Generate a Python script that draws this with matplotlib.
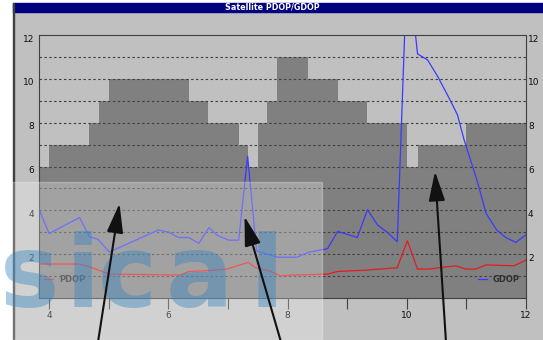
import matplotlib
matplotlib.use("Agg")
import matplotlib.pyplot as plt
from matplotlib.patches import Rectangle, FancyArrowPatch, ArrowStyle
import matplotlib.transforms as mtransforms

# ---------------- data ----------------
sat_edges = [3.83, 4.0, 4.67, 4.84, 5.01, 6.34, 6.67, 7.18, 7.34, 7.50, 7.66,
             7.83, 8.34, 8.84, 9.34, 10.0, 10.18, 11.0, 12.0]
sat_levels = [6, 7, 8, 9, 10, 9, 8, 7, 6, 8, 9, 11, 10, 9, 8, 6, 7, 8]

gdop_x = [3.83, 4.0, 4.51, 4.68, 4.82, 5.01, 5.83, 6.0, 6.17, 6.34, 6.51, 6.68,
          6.82, 7.01, 7.18, 7.33, 7.48, 7.83, 8.16, 8.34, 8.67, 8.84, 9.17, 9.34,
          9.51, 9.68, 9.84, 10.01, 10.18, 10.35, 10.52, 10.71, 10.85, 10.96,
          11.19, 11.33, 11.51, 11.66, 11.83, 12.0]
gdop = [4.05, 2.94, 3.67, 2.79, 2.68, 2.10, 3.10, 3.01, 2.76, 2.76, 2.49, 3.21,
        2.86, 2.64, 2.64, 6.47, 2.15, 1.86, 1.86, 2.08, 2.25, 3.04, 2.76, 4.03,
        3.33, 2.98, 2.57, 15.5, 11.14, 10.86, 10.10, 9.12, 8.36, 7.23,
        5.26, 3.86, 3.10, 2.76, 2.54, 2.88]

pdop_x = [3.83, 4.51, 4.68, 5.01, 5.88, 6.2, 6.34, 6.62, 6.99, 7.15, 7.34, 7.46,
          7.69, 7.88, 8.13, 8.67, 8.84, 9.31, 9.84, 10.01, 10.18, 10.37, 10.66,
          10.82, 10.99, 11.16, 11.33, 11.80, 12.0]
pdop = [1.55, 1.55, 1.42, 1.09, 1.06, 1.05, 1.21, 1.24, 1.32, 1.47, 1.62, 1.39,
        1.24, 1.01, 1.05, 1.09, 1.21, 1.27, 1.38, 2.61, 1.32, 1.32, 1.42,
        1.47, 1.32, 1.32, 1.51, 1.47, 1.73]

x_ticks = [4, 5, 6, 7, 8, 9, 10, 11, 12]
x_labels = ["4", "", "6", "", "8", "", "10", "", "12"]
grid_levels = [1, 2, 3, 4, 5, 6, 7, 8, 9, 10, 11]
y_labels = [2, 4, 6, 8, 10, 12]
title = "Satellite PDOP/GDOP"
watermark_letters = ["s", "i", "c", "a", "l"]
watermark_px = [0, 66, 98, 166, 250]

# ---------------- figure ----------------
W, H = 543, 340
fig = plt.figure(figsize=(W / 100, H / 100), dpi=100, facecolor="#c0c0c0")

# window chrome
fig.add_artist(Rectangle((0, 0), 13 / W, 1, transform=fig.transFigure,
                         color="white", zorder=-2))
fig.add_artist(Rectangle((0, 1 - 3 / H), 1, 3 / H, transform=fig.transFigure,
                         color="white", zorder=-2))
fig.add_artist(Rectangle((13 / W, 1 - 12 / H), 1 - 13 / W, 9 / H,
                         transform=fig.transFigure, color="#000080", zorder=-1))
fig.add_artist(Rectangle((13 / W, 0), 1.2 / W, 1 - 3 / H,
                         transform=fig.transFigure, color="#404040", zorder=-1))
fig.text(272 / W, 1 - 7.5 / H, title, color="white", fontsize=5.8,
         weight="bold", ha="center", va="center")

ax = fig.add_axes([39 / W, 1 - 298 / H, 487 / W, 263 / H])
ax.set_facecolor("#c0c0c0")
ax.set_xlim(3.83, 12)
ax.set_ylim(0, 12)

ax.stairs(sat_levels, sat_edges, baseline=0, fill=True, color="#808080",
          zorder=0.3)

ax.set_axisbelow(True)
ax.set_yticks(grid_levels)
ax.yaxis.grid(True, color="#404040", linestyle=(0, (2.2, 2.2)), lw=0.8)
ax.tick_params(axis="y", length=0, labelleft=False, labelright=False)

ax.set_xticks(x_ticks)
ax.set_xticklabels(x_labels)
ax.tick_params(axis="x", direction="out", length=8, width=0.8,
               color="#404040", pad=1.2, labelsize=6.5, labelcolor="#101010")

for s in ax.spines.values():
    s.set_color("#404040")
    s.set_linewidth(0.8)

lg, = ax.plot(gdop_x, gdop, color="#3a3aff", lw=0.9, zorder=2)
lp, = ax.plot(pdop_x, pdop, color="#e8191e", lw=0.9, zorder=2)

# y labels (both sides), slightly below gridline as in the original
tl = mtransforms.offset_copy(ax.get_yaxis_transform(), fig=fig, x=-5, y=-4,
                             units="dots")
tr = mtransforms.offset_copy(ax.get_yaxis_transform(), fig=fig, x=2, y=-4,
                             units="dots")
for v in y_labels:
    ax.text(0, v, str(v), transform=tl, ha="right", va="center",
            fontsize=6.5, color="#101010", clip_on=False)
    ax.text(1, v, str(v), transform=tr, ha="left", va="center",
            fontsize=6.5, color="#101010", clip_on=False)

leg1 = ax.legend([lp], ["PDOP"], loc="center left",
                 bbox_to_anchor=(5 / 487, 19 / 263), frameon=False,
                 borderpad=0, borderaxespad=0, handlelength=1.1,
                 handletextpad=0.7, prop={"size": 6, "weight": "bold"},
                 labelcolor="#303030")
ax.add_artist(leg1)
ax.legend([lg], ["GDOP"], loc="center right",
          bbox_to_anchor=(481 / 487, 19 / 263), frameon=False,
          borderpad=0, borderaxespad=0, handlelength=1.1,
          handletextpad=0.7, prop={"size": 6, "weight": "bold"},
          labelcolor="#303030")

# screenshot overlay (light highlight at lower left)
fig.add_artist(Rectangle((0, 0), 322 / W, 1 - 182 / H,
                         transform=fig.transFigure, color="white",
                         alpha=0.27, zorder=5))

# watermark
for ch, px in zip(watermark_letters, watermark_px):
    fig.text(px / W, 1 - 307 / H, ch, fontsize=72, weight="bold",
             family="DejaVu Sans", color=(0.22, 0.52, 0.76), alpha=0.42,
             ha="left", va="baseline", zorder=6)

# annotation arrows (figure pixel coordinates, origin bottom-left)
arrows = [((98, -2), (119.5, H - 203.5)),
          ((281, -2), (244.5, H - 216.5)),
          ((446, -2), (435, H - 171.5))]
for tail, tip in arrows:
    fig.add_artist(FancyArrowPatch(
        tail, tip, transform=mtransforms.IdentityTransform(),
        arrowstyle=ArrowStyle("-|>", head_length=1.8, head_width=0.5),
        mutation_scale=10, color="#111111", lw=1.5, zorder=7,
        shrinkA=0, shrinkB=0))

fig.savefig("out.png", dpi=100, facecolor=fig.get_facecolor())
